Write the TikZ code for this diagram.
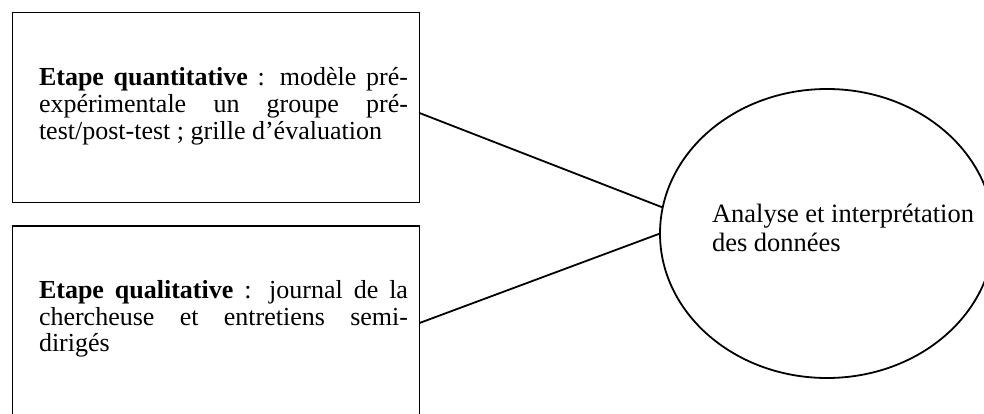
\documentclass[tikz,border=0pt]{standalone}
\usepackage{fontspec}
\setmainfont{Liberation Serif}
\usetikzlibrary{shapes.geometric}
\tikzset{
  framebox/.style={draw, line width=1.8pt, rectangle, inner sep=0pt, outer sep=0pt},
  ovalbox/.style={draw, line width=1.8pt, ellipse, inner sep=0pt, outer sep=0pt},
  link/.style={line width=1.8pt},
  boxtext/.style={anchor=base west, inner sep=0pt, outer sep=0pt, font=\fontsize{26}{26.8}\selectfont},
  ovaltext/.style={anchor=base west, inner sep=0pt, outer sep=0pt, font=\fontsize{26.5}{28.5}\selectfont}
}
\begin{document}
\begin{tikzpicture}[x=1pt,y=-1pt]
\fill[white] (0,0) rectangle (984,414);
\useasboundingbox (0,0) rectangle (984,414);
\node[framebox, minimum width=407pt, minimum height=190pt] (b1) at (216,107.5) {};
\node[framebox, minimum width=407pt, minimum height=194pt] (b2) at (216,323) {};
\node[ovalbox, minimum width=334pt, minimum height=289pt] (e) at (827,233.5) {};
\node[boxtext] (t1) at (39,86) {\parbox[t]{369pt}{%
\makebox[\linewidth][s]{\textbf{Etape quantitative} : modèle pré-}\\
\makebox[\linewidth][s]{expérimentale un groupe pré-}\\
test/post-test ; grille d’évaluation}};
\node[boxtext] (t2) at (39,298.3) {\parbox[t]{369pt}{%
\makebox[\linewidth][s]{\textbf{Etape qualitative} : journal de la}\\
\makebox[\linewidth][s]{chercheuse et entretiens semi-}\\
dirigés}};
\node[ovaltext] (t3) at (712,222.5) {\parbox[t]{270pt}{Analyse et interprétation\\des données}};
\draw[link] ([yshift=-5.5pt]b1.east) -- (e.171.9);
\draw[link] (b2.east) -- (e.180.5);
\end{tikzpicture}
\end{document}
